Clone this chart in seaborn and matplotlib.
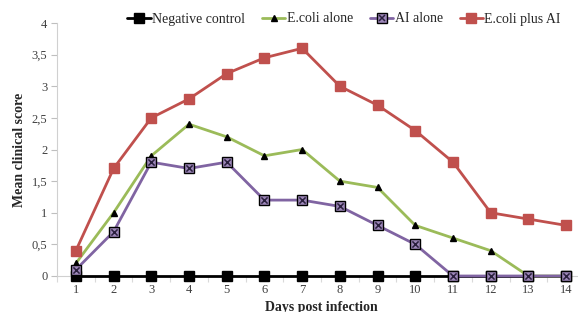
import matplotlib
matplotlib.use("Agg")
import matplotlib.pyplot as plt
from matplotlib.lines import Line2D
from matplotlib.legend_handler import HandlerTuple
import seaborn as sns
import pandas as pd
import numpy as np

days = list(range(1, 15))
negative_control = [0, 0, 0, 0, 0, 0, 0, 0, 0, 0, 0, 0, 0, 0]
ecoli_alone = [0.2, 1.0, 1.9, 2.4, 2.2, 1.9, 2.0, 1.5, 1.4, 0.8, 0.6, 0.4, 0, 0]
ai_alone = [0.1, 0.7, 1.8, 1.7, 1.8, 1.2, 1.2, 1.1, 0.8, 0.5, 0, 0, 0, 0]
ecoli_plus_ai = [0.4, 1.7, 2.5, 2.8, 3.2, 3.45, 3.6, 3.0, 2.7, 2.3, 1.8, 1.0, 0.9, 0.8]
series_names = ["Negative control", "E.coli alone", "AI alone", "E.coli plus AI"]
y_ticks = [0, 0.5, 1, 1.5, 2, 2.5, 3, 3.5, 4]
y_tick_labels = ["0", "0,5", "1", "1,5", "2", "2,5", "3", "3,5", "4"]

sns.set_style("white")
plt.rcParams['font.family'] = ['Liberation Serif', 'DejaVu Serif']

df = pd.DataFrame({
    "day": days * 4,
    "score": negative_control + ecoli_alone + ai_alone + ecoli_plus_ai,
    "series": sum([[n] * len(days) for n in series_names], []),
})

fig = plt.figure(figsize=(5.78, 3.12), dpi=100)
ax = fig.add_axes([57/578, 36/312, (585-57)/578, 253/312])

styles = {
    "Negative control": dict(color="black", marker="s", markersize=7.5, mfc="black", mec="black", lw=2),
    "E.coli alone": dict(color="#9BBB59", marker="^", markersize=5, mfc="black", mec="black", lw=2),
    "AI alone": dict(color="#8064A2", marker="s", markersize=7, mfc="#9C86B8", mec="black", lw=2),
    "E.coli plus AI": dict(color="#C0504D", marker="s", markersize=7.5, mfc="#C0504D", mec="#C0504D", lw=2),
}
for name in series_names:
    sub = df[df["series"] == name]
    st = styles[name]
    sns.lineplot(data=sub, x="day", y="score", ax=ax, color=st["color"], marker=st["marker"],
                 markersize=st["markersize"], markerfacecolor=st["mfc"], markeredgecolor=st["mec"],
                 markeredgewidth=1, linewidth=st["lw"], label=name, clip_on=False, zorder=3)
    if name == "AI alone":
        sns.scatterplot(data=sub, x="day", y="score", ax=ax, marker="x", color="#2A1F3D",
                        s=20, linewidth=1.1, zorder=4, clip_on=False, legend=False)

handles, labels = ax.get_legend_handles_labels()
if ax.get_legend() is not None:
    ax.get_legend().remove()
xmark = Line2D([], [], linestyle="none", marker="x", color="#2A1F3D", markersize=4.5, markeredgewidth=1.1)
handles = [(h, xmark) if l == "AI alone" else h for h, l in zip(handles, labels)]

ax.set_xlim(0.5, 14.5)
ax.set_ylim(0, 4)
ax.set_xticks(days)
ax.set_xticklabels([str(d) for d in days])
ax.set_xticks(np.arange(0.5, 14.6, 1.0), minor=True)
ax.set_yticks(y_ticks)
ax.set_yticklabels(y_tick_labels)
ax.tick_params(axis="both", which="major", labelsize=9, labelcolor="#404040")
ax.tick_params(axis="x", which="major", length=0, pad=6)
ax.tick_params(axis="x", which="minor", length=4, width=0.8, color="#D9D9D9", bottom=True)
ax.tick_params(axis="y", which="major", left=True, length=4, width=0.8, color="#BFBFBF", pad=3)
for s in ["top", "right"]:
    ax.spines[s].set_visible(False)
ax.spines["left"].set_color("#D0D0D0")
ax.spines["bottom"].set_color("#D0D0D0")
ax.set_xlabel("Days post infection", fontsize=10, fontweight="bold", labelpad=3)
ax.set_ylabel("Mean clinical score", fontsize=10, fontweight="bold", labelpad=4)

fig.legend(handles, labels, loc="center", bbox_to_anchor=(344/578, 1 - 19/312), ncol=4,
           frameon=False, fontsize=10, handlelength=1.7, handletextpad=0.1, columnspacing=1.2,
           borderpad=0, handler_map={tuple: HandlerTuple(ndivide=1)})

fig.savefig("out.png", dpi=100)
